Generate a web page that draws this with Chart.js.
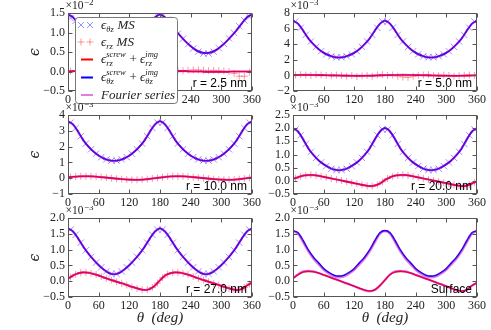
<!DOCTYPE html>
<html>
<head>
<meta charset="utf-8">
<script src="https://cdn.jsdelivr.net/npm/chart.js@4.4.1/dist/chart.umd.min.js"></script>
<style>
html, body { margin: 0; padding: 0; background: #fff; }
#wrap { position: relative; width: 491px; height: 330px; overflow: hidden; }
#wrap canvas { position: absolute; }
</style>
</head>
<body>
<div id="wrap">
  <canvas id="c1" width="270" height="110" style="left:0px;top:0px"></canvas>
  <canvas id="c2" width="241" height="110" style="left:250px;top:0px"></canvas>
  <canvas id="c3" width="270" height="110" style="left:0px;top:103px"></canvas>
  <canvas id="c4" width="241" height="110" style="left:250px;top:103px"></canvas>
  <canvas id="c5" width="270" height="124" style="left:0px;top:206px"></canvas>
  <canvas id="c6" width="241" height="124" style="left:250px;top:206px"></canvas>
</div>
<script>
/* global Chart */
(function () {
    'use strict';

    // angles (deg): curves every 10 deg, MS points offset by 5 deg
    var thetaLine = [0, 10, 20, 30, 40, 50, 60, 70, 80, 90, 100, 110, 120, 130, 140, 150, 160, 170, 180,
        190, 200, 210, 220, 230, 240, 250, 260, 270, 280, 290, 300, 310, 320, 330, 340, 350, 360];
    var thetaMS = [5, 15, 25, 35, 45, 55, 65, 75, 85, 95, 105, 115, 125, 135, 145, 155, 165, 175,
        185, 195, 205, 215, 225, 235, 245, 255, 265, 275, 285, 295, 305, 315, 325, 335, 345, 355];
    var xTicks = [0, 60, 120, 180, 240, 300, 360];

    // r = 2.5 nm  (x 1e-2)
    var blueLine1 = [1.46, 1.39, 1.23, 1.06, 0.91, 0.77, 0.65, 0.55, 0.49, 0.47, 0.49, 0.55, 0.65, 0.77, 0.91, 1.06, 1.23, 1.39, 1.46,
        1.39, 1.23, 1.06, 0.91, 0.77, 0.65, 0.55, 0.49, 0.47, 0.49, 0.55, 0.65, 0.77, 0.91, 1.06, 1.23, 1.39, 1.46];
    var redLine1 = [0.0, 0.01, 0.01, 0.01, 0.01, 0.0, 0.0, 0.0, -0.01, -0.01, -0.01, -0.01, -0.01, 0.0, 0.0, 0.0, 0.0, 0.0, 0.0,
        0.01, 0.01, 0.01, 0.01, 0.01, 0.0, 0.0, 0.0, -0.01, -0.01, -0.01, -0.01, -0.01, 0.0, 0.0, 0.0, 0.0, 0.0];
    var blueMS1 = [1.37, 1.30, 1.14, 0.97, 0.84, 0.70, 0.59, 0.51, 0.46, 0.47, 0.51, 0.60, 0.71, 0.85, 0.98, 1.15, 1.31, 1.42,
        1.43, 1.33, 1.15, 0.97, 0.84, 0.70, 0.59, 0.51, 0.46, 0.46, 0.51, 0.60, 0.71, 0.85, 0.99, 1.16, 1.31, 1.40];
    var redMS1 = [0.01, 0.0, 0.02, 0.01, 0.0, 0.02, 0.03, 0.01, 0.02, 0.0, 0.01, 0.02, 0.03, 0.02, 0.0, -0.01, 0.01, 0.02,
        0.02, 0.03, 0.04, 0.03, 0.02, 0.03, 0.04, 0.04, 0.03, 0.02, 0.03, 0.02, 0.01, 0.0, -0.05, -0.12, -0.12, -0.02];

    // r = 5.0 nm  (x 1e-3)
    var blueLine2 = [7.0, 6.62, 5.73, 4.74, 3.99, 3.38, 2.91, 2.58, 2.37, 2.30, 2.37, 2.58, 2.91, 3.38, 3.99, 4.74, 5.73, 6.62, 7.0,
        6.62, 5.73, 4.74, 3.99, 3.38, 2.91, 2.58, 2.37, 2.30, 2.37, 2.58, 2.91, 3.38, 3.99, 4.74, 5.73, 6.62, 7.0];
    var redLine2 = [0.03, 0.05, 0.06, 0.06, 0.05, 0.04, 0.03, 0.01, 0.0, -0.02, -0.03, -0.04, -0.05, -0.05, -0.05, -0.04, -0.02, 0.0, 0.02,
        0.04, 0.05, 0.06, 0.06, 0.05, 0.04, 0.02, 0.01, -0.01, -0.02, -0.04, -0.05, -0.05, -0.05, -0.04, -0.03, -0.01, 0.01];
    var blueMS2 = [6.9, 6.1, 5.2, 4.35, 3.65, 3.1, 2.7, 2.45, 2.33, 2.33, 2.45, 2.7, 3.1, 3.65, 4.35, 5.2, 6.1, 6.9,
        6.9, 6.1, 5.2, 4.35, 3.65, 3.1, 2.7, 2.45, 2.33, 2.33, 2.45, 2.7, 3.1, 3.65, 4.35, 5.2, 6.1, 6.9];
    var redMS2 = [0.05, 0.1, 0.05, 0.0, 0.1, 0.05, 0.0, -0.05, 0.05, 0.0, -0.1, 0.0, -0.15, -0.05, 0.0, -0.1, 0.05, 0.1,
        0.0, 0.05, -0.1, -0.2, -0.25, -0.1, 0.0, 0.05, 0.1, 0.0, -0.05, 0.05, 0.0, -0.1, -0.05, 0.0, 0.05, 0.0];

    // r = 10.0 nm
    var blueLine3 = [3.6, 3.40, 2.93, 2.40, 2.00, 1.68, 1.43, 1.25, 1.14, 1.10, 1.14, 1.25, 1.43, 1.68, 2.00, 2.40, 2.93, 3.40, 3.6,
        3.40, 2.93, 2.40, 2.00, 1.68, 1.43, 1.25, 1.14, 1.10, 1.14, 1.25, 1.43, 1.68, 2.00, 2.40, 2.93, 3.40, 3.6];
    var redLine3 = [0.06, 0.09, 0.11, 0.12, 0.12, 0.11, 0.08, 0.05, 0.02, -0.01, -0.04, -0.07, -0.09, -0.10, -0.10, -0.08, -0.04, 0.0, 0.04,
        0.08, 0.11, 0.12, 0.12, 0.11, 0.08, 0.05, 0.02, -0.01, -0.04, -0.07, -0.09, -0.10, -0.10, -0.08, -0.04, 0.0, 0.04];
    var blueMS3 = [3.52, 3.18, 2.66, 2.19, 1.83, 1.55, 1.33, 1.19, 1.11, 1.11, 1.19, 1.33, 1.55, 1.83, 2.19, 2.66, 3.18, 3.52,
        3.52, 3.18, 2.66, 2.19, 1.83, 1.55, 1.33, 1.19, 1.11, 1.11, 1.19, 1.33, 1.55, 1.83, 2.19, 2.66, 3.18, 3.52];
    var redMS3 = [0.08, 0.10, 0.12, 0.12, 0.12, 0.10, 0.07, 0.04, 0.0, -0.03, -0.06, -0.08, -0.10, -0.10, -0.09, -0.06, -0.02, 0.02,
        0.06, 0.10, 0.12, 0.12, 0.12, 0.10, 0.07, 0.04, 0.0, -0.03, -0.06, -0.08, -0.10, -0.10, -0.09, -0.06, -0.02, 0.02];

    // r = 20.0 nm
    var blueLine4 = [2.0, 1.87, 1.57, 1.23, 0.98, 0.78, 0.63, 0.51, 0.43, 0.40, 0.43, 0.51, 0.63, 0.78, 0.98, 1.23, 1.57, 1.87, 2.0,
        1.87, 1.57, 1.23, 0.98, 0.78, 0.63, 0.51, 0.43, 0.40, 0.43, 0.51, 0.63, 0.78, 0.98, 1.23, 1.57, 1.87, 2.0];
    var redLine4 = [0.07, 0.14, 0.20, 0.22, 0.22, 0.19, 0.15, 0.11, 0.07, 0.03, -0.01, -0.05, -0.09, -0.13, -0.17, -0.20, -0.18, -0.10, 0.03,
        0.14, 0.20, 0.22, 0.22, 0.19, 0.15, 0.11, 0.07, 0.03, -0.01, -0.05, -0.09, -0.13, -0.17, -0.20, -0.18, -0.10, -0.02];
    var blueMS4 = [1.95, 1.73, 1.40, 1.10, 0.87, 0.70, 0.56, 0.46, 0.41, 0.41, 0.46, 0.56, 0.70, 0.87, 1.10, 1.40, 1.73, 1.95,
        1.95, 1.73, 1.40, 1.10, 0.87, 0.70, 0.56, 0.46, 0.41, 0.41, 0.46, 0.56, 0.70, 0.87, 1.10, 1.40, 1.73, 1.95];
    var redMS4 = [0.10, 0.17, 0.21, 0.23, 0.21, 0.17, 0.13, 0.09, 0.05, 0.01, -0.03, -0.07, -0.11, -0.15, -0.19, -0.20, -0.15, -0.04,
        0.09, 0.17, 0.21, 0.23, 0.21, 0.17, 0.13, 0.09, 0.05, 0.01, -0.03, -0.07, -0.11, -0.15, -0.19, -0.20, -0.15, -0.06];

    // r = 27.0 nm
    var blueLine5 = [1.67, 1.57, 1.35, 1.09, 0.87, 0.68, 0.51, 0.37, 0.26, 0.22, 0.26, 0.37, 0.51, 0.68, 0.87, 1.09, 1.35, 1.57, 1.67,
        1.57, 1.35, 1.09, 0.87, 0.68, 0.51, 0.37, 0.26, 0.22, 0.26, 0.37, 0.51, 0.68, 0.87, 1.09, 1.35, 1.57, 1.67];
    var redLine5 = [0.08, 0.18, 0.25, 0.28, 0.27, 0.23, 0.18, 0.12, 0.06, 0.01, -0.04, -0.09, -0.15, -0.20, -0.25, -0.28, -0.25, -0.14, 0.03,
        0.18, 0.25, 0.28, 0.27, 0.23, 0.18, 0.12, 0.06, 0.01, -0.04, -0.09, -0.15, -0.20, -0.25, -0.28, -0.25, -0.14, -0.04];
    var blueMS5 = [1.63, 1.47, 1.22, 0.98, 0.77, 0.59, 0.44, 0.31, 0.23, 0.23, 0.31, 0.44, 0.59, 0.77, 0.98, 1.22, 1.47, 1.63,
        1.63, 1.47, 1.22, 0.98, 0.77, 0.59, 0.44, 0.31, 0.23, 0.23, 0.31, 0.44, 0.59, 0.77, 0.98, 1.22, 1.47, 1.63];
    var redMS5 = [0.13, 0.22, 0.27, 0.28, 0.25, 0.21, 0.15, 0.09, 0.04, -0.02, -0.07, -0.12, -0.18, -0.23, -0.27, -0.27, -0.20, -0.06,
        0.11, 0.22, 0.27, 0.28, 0.25, 0.21, 0.15, 0.09, 0.04, -0.02, -0.07, -0.12, -0.18, -0.23, -0.27, -0.27, -0.20, -0.09];

    // Surface
    var blueLine6 = [1.60, 1.53, 1.28, 0.99, 0.76, 0.58, 0.40, 0.28, 0.19, 0.16, 0.19, 0.28, 0.40, 0.58, 0.76, 0.99, 1.28, 1.53, 1.60,
        1.53, 1.28, 0.99, 0.76, 0.58, 0.40, 0.28, 0.19, 0.16, 0.19, 0.28, 0.40, 0.58, 0.76, 0.99, 1.28, 1.53, 1.60];
    var redLine6 = [0.09, 0.21, 0.29, 0.31, 0.30, 0.26, 0.20, 0.14, 0.08, 0.02, -0.04, -0.10, -0.16, -0.22, -0.28, -0.31, -0.27, -0.14, 0.04,
        0.21, 0.29, 0.31, 0.30, 0.26, 0.20, 0.14, 0.08, 0.02, -0.04, -0.10, -0.16, -0.22, -0.28, -0.31, -0.27, -0.14, -0.05];
    var fourierBlue6 = [1.58, 1.49, 1.23, 0.94, 0.71, 0.53, 0.36, 0.24, 0.15, 0.12, 0.15, 0.24, 0.36, 0.53, 0.71, 0.94, 1.23, 1.49, 1.58,
        1.49, 1.23, 0.94, 0.71, 0.53, 0.36, 0.24, 0.15, 0.12, 0.15, 0.24, 0.36, 0.53, 0.71, 0.94, 1.23, 1.49, 1.58];
    var fourierRed6 = [0.09, 0.22, 0.31, 0.33, 0.31, 0.26, 0.20, 0.14, 0.08, 0.02, -0.04, -0.10, -0.16, -0.23, -0.29, -0.32, -0.28, -0.14, 0.04,
        0.22, 0.31, 0.33, 0.31, 0.26, 0.20, 0.14, 0.08, 0.02, -0.04, -0.10, -0.16, -0.23, -0.29, -0.32, -0.28, -0.14, -0.05];

    var panelLabels = ['r = 2.5 nm', 'r = 5.0 nm', 'r = 10.0 nm', 'r = 20.0 nm', 'r = 27.0 nm', 'Surface'];
    var yMin = [-0.5, -2, -1, -0.5, -0.5, -0.5];
    var yMax = [1.5, 8, 4, 2.5, 2.0, 2.0];
    var yStep = [0.5, 2, 1, 0.5, 0.5, 0.5];
    var yDecimals = [1, 0, 0, 1, 1, 1];
    var yExp = [-2, -3, -3, -3, -3, -3];

    var blueLines = [blueLine1, blueLine2, blueLine3, blueLine4, blueLine5, blueLine6];
    var redLines = [redLine1, redLine2, redLine3, redLine4, redLine5, redLine6];
    var fourierBlue = [blueLine1, blueLine2, blueLine3, blueLine4, blueLine5, fourierBlue6];
    var fourierRed = [redLine1, redLine2, redLine3, redLine4, redLine5, fourierRed6];
    var blueMS = [blueMS1, blueMS2, blueMS3, blueMS4, blueMS5, null];
    var redMS = [redMS1, redMS2, redMS3, redMS4, redMS5, null];

    // layout of the 3x2 grid
    var yAxisW = [68, 43], padRight = [18, 14];
    var padTop = [13, 12, 12], xAxisH = [19, 19, 33];

    var BLUE = '#0000ff', RED = '#ff0000', MAG = 'rgba(191,0,191,0.5)';
    var BLUE_MS = 'rgba(0,0,255,0.42)', RED_MS = 'rgba(255,0,0,0.4)';
    var SERIF = '"Liberation Serif", "DejaVu Serif", serif';

    function pts(xs, ys) { return xs.map(function (x, i) { return { x: x, y: ys[i] }; }); }

    var framePlugin = {
        id: 'frame',
        afterDraw: function (chart, args, opts) {
            var ctx = chart.ctx, a = chart.chartArea, xs = chart.scales.x, ys = chart.scales.y;
            var L = Math.round(a.left) + 0.5, R = Math.round(a.right) - 0.5;
            var T = Math.round(a.top) + 0.5, B = Math.round(a.bottom) - 0.5;
            ctx.save();
            ctx.strokeStyle = '#555'; ctx.lineWidth = 1;
            ctx.strokeRect(L, T, R - L, B - T);
            ctx.beginPath();
            xs.ticks.forEach(function (t) {
                var p = Math.round(xs.getPixelForValue(t.value)) + 0.5;
                ctx.moveTo(p, B); ctx.lineTo(p, B - 4); ctx.moveTo(p, T); ctx.lineTo(p, T + 4);
            });
            ys.ticks.forEach(function (t) {
                var p = Math.round(ys.getPixelForValue(t.value)) + 0.5;
                ctx.moveTo(L, p); ctx.lineTo(L + 4, p); ctx.moveTo(R, p); ctx.lineTo(R - 4, p);
            });
            ctx.stroke();
            // offset text x10^n
            ctx.fillStyle = '#222';
            ctx.textAlign = 'left'; ctx.textBaseline = 'alphabetic';
            ctx.font = '11.5px ' + SERIF;
            var ex = a.left - 2.5, ey = a.top - 4;
            ctx.fillText('\u00d710', ex, ey);
            var w = ctx.measureText('\u00d710').width;
            ctx.font = '9px ' + SERIF;
            ctx.fillText('\u2212' + Math.abs(opts.exp), ex + w + 0.5, ey - 4.5);
            // panel label
            ctx.font = '12px "Liberation Sans", Arial, sans-serif';
            ctx.fillStyle = '#000'; ctx.textAlign = 'right';
            ctx.fillText(opts.label, a.right - 5, a.bottom - 4.5);
            ctx.restore();
        }
    };

    function drawMath(ctx, x, y, parts) {
        parts.forEach(function (p) {
            if (p.t) {
                ctx.font = p.up ? '13px ' + SERIF : 'italic 13px ' + SERIF;
                ctx.fillText(p.t, x, y);
                x += ctx.measureText(p.t).width;
            } else {
                ctx.font = 'italic 8.5px ' + SERIF;
                var w1 = p.sub ? ctx.measureText(p.sub).width : 0;
                var w2 = p.sup ? ctx.measureText(p.sup).width : 0;
                if (p.sub) { ctx.fillText(p.sub, x, y + 3); }
                if (p.sup) { ctx.fillText(p.sup, x, y - 5.5); }
                x += Math.max(w1, w2) + 0.5;
            }
        });
    }

    var legendPlugin = {
        id: 'mathLegend',
        afterDraw: function (chart) {
            var ctx = chart.ctx;
            ctx.save();
            // box
            var bx = 75.5, by = 17.5, bw = 102, bh = 86, r = 3;
            ctx.beginPath();
            ctx.moveTo(bx + r, by); ctx.lineTo(bx + bw - r, by); ctx.arcTo(bx + bw, by, bx + bw, by + r, r);
            ctx.lineTo(bx + bw, by + bh - r); ctx.arcTo(bx + bw, by + bh, bx + bw - r, by + bh, r);
            ctx.lineTo(bx + r, by + bh); ctx.arcTo(bx, by + bh, bx, by + bh - r, r);
            ctx.lineTo(bx, by + r); ctx.arcTo(bx, by, bx + r, by, r);
            ctx.closePath();
            ctx.fillStyle = '#fff'; ctx.fill();
            ctx.strokeStyle = '#777'; ctx.lineWidth = 1; ctx.stroke();

            var rows = [25, 42, 59.5, 77.5, 95];
            // markers
            ctx.lineWidth = 1;
            ctx.strokeStyle = BLUE_MS;
            ctx.beginPath();
            [81, 90].forEach(function (cx) {
                ctx.moveTo(cx - 3, rows[0] - 3); ctx.lineTo(cx + 3, rows[0] + 3);
                ctx.moveTo(cx - 3, rows[0] + 3); ctx.lineTo(cx + 3, rows[0] - 3);
            });
            ctx.stroke();
            ctx.strokeStyle = RED_MS;
            ctx.beginPath();
            [81, 90].forEach(function (cx) {
                ctx.moveTo(cx - 3.5, rows[1]); ctx.lineTo(cx + 3.5, rows[1]);
                ctx.moveTo(cx, rows[1] - 3.5); ctx.lineTo(cx, rows[1] + 3.5);
            });
            ctx.stroke();
            // line swatches
            ctx.lineWidth = 2;
            [[RED, rows[2]], [BLUE, rows[3]], [MAG, rows[4]]].forEach(function (s) {
                ctx.strokeStyle = s[0];
                ctx.beginPath(); ctx.moveTo(81, s[1]); ctx.lineTo(93, s[1]); ctx.stroke();
            });
            // texts
            ctx.fillStyle = '#222'; ctx.textAlign = 'left'; ctx.textBaseline = 'alphabetic';
            var tx = 101;
            drawMath(ctx, tx, rows[0] + 4, [{ t: '\u03f5' }, { sub: '\u03b8z' }, { t: ' MS' }]);
            drawMath(ctx, tx, rows[1] + 4, [{ t: '\u03f5' }, { sub: 'rz' }, { t: ' MS' }]);
            drawMath(ctx, tx, rows[2] + 3, [{ t: '\u03f5' }, { sub: 'rz', sup: 'screw' }, { t: ' + ', up: true }, { t: '\u03f5' }, { sub: 'rz', sup: 'img' }]);
            drawMath(ctx, tx, rows[3] + 3, [{ t: '\u03f5' }, { sub: '\u03b8z', sup: 'screw' }, { t: ' + ', up: true }, { t: '\u03f5' }, { sub: '\u03b8z', sup: 'img' }]);
            drawMath(ctx, tx, rows[4] + 4, [{ t: 'Fourier series' }]);
            ctx.restore();
        }
    };

    function makeChart(i) {
        var col = i % 2, row = Math.floor(i / 2);
        var datasets = [
            { label: 'Fourier series', data: pts(thetaLine, fourierBlue[i]), borderColor: MAG, borderWidth: 2.2, pointRadius: 0, cubicInterpolationMode: 'monotone', order: 0 },
            { label: 'Fourier series', data: pts(thetaLine, fourierRed[i]), borderColor: MAG, borderWidth: 2.2, pointRadius: 0, cubicInterpolationMode: 'monotone', order: 0 },
            { label: 'eps_tz screw+img', data: pts(thetaLine, blueLines[i]), borderColor: BLUE, borderWidth: 1.6, pointRadius: 0, cubicInterpolationMode: 'monotone', order: 1 },
            { label: 'eps_rz screw+img', data: pts(thetaLine, redLines[i]), borderColor: RED, borderWidth: 1.6, pointRadius: 0, cubicInterpolationMode: 'monotone', order: 2 }
        ];
        if (blueMS[i]) {
            datasets.push({ label: 'eps_tz MS', data: pts(thetaMS, blueMS[i]), showLine: false, pointStyle: 'crossRot', pointRadius: 4.5, borderWidth: 1, borderColor: BLUE_MS, order: 3 });
            datasets.push({ label: 'eps_rz MS', data: pts(thetaMS, redMS[i]), showLine: false, pointStyle: 'cross', pointRadius: 3.5, borderWidth: 1, borderColor: RED_MS, order: 4 });
        }
        var plugins = [framePlugin];
        if (i === 0) { plugins.push(legendPlugin); }
        return new Chart(document.getElementById('c' + (i + 1)), {
            type: 'line',
            data: { datasets: datasets },
            plugins: plugins,
            options: {
                responsive: false, animation: false, devicePixelRatio: 1,
                layout: { padding: { left: 0, right: padRight[col], top: padTop[row], bottom: 0 } },
                plugins: {
                    legend: { display: false }, tooltip: { enabled: false },
                    frame: { exp: yExp[i], label: panelLabels[i] }
                },
                scales: {
                    x: {
                        type: 'linear', min: 0, max: 360,
                        afterBuildTicks: function (s) { s.ticks = xTicks.map(function (v) { return { value: v }; }); },
                        afterFit: function (s) { s.height = xAxisH[row]; },
                        grid: { display: false, drawTicks: false }, border: { display: false },
                        ticks: { autoSkip: false, maxRotation: 0, padding: 2, color: '#222', font: { family: SERIF, size: 12 } },
                        title: { display: row === 2, text: '\u03b8  (deg)', color: '#222', padding: { top: 0, bottom: 3 }, font: { family: SERIF, size: 15, style: 'italic' } }
                    },
                    y: {
                        min: yMin[i], max: yMax[i],
                        ticks: {
                            stepSize: yStep[i], autoSkip: false, padding: 3, color: '#222', font: { family: SERIF, size: 12 },
                            callback: function (v) { return Number(v).toFixed(yDecimals[i]).replace('-', '\u2212'); }
                        },
                        afterFit: function (s) { s.width = yAxisW[col]; },
                        grid: { display: false, drawTicks: false }, border: { display: false },
                        title: { display: col === 0, text: '\u03f5', color: '#222', padding: { top: 27, bottom: 0 }, font: { family: '"DejaVu Serif", serif', size: 14, style: 'italic' } }
                    }
                }
            }
        });
    }

    for (var i = 0; i < 6; i++) { makeChart(i); }
})();
</script>
</body>
</html>
